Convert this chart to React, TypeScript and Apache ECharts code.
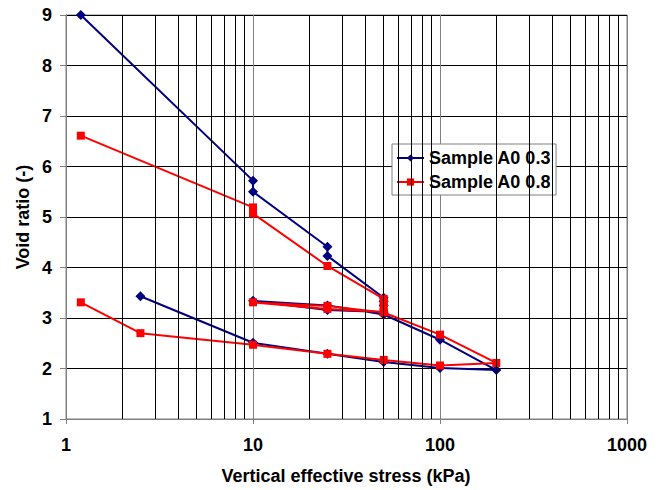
import React, { useEffect, useRef } from "react";
import * as echarts from "echarts";

const seriesNames = ["Sample A0 0.3", "Sample A0 0.8"];

const stressA03 = [1.2, 10, 10, 25, 25, 50, 50, 50, 50, 25, 10, 25, 50, 100, 200, 100, 50, 25, 10, 2.5];
const voidA03 = [9.0, 5.72, 5.5, 4.41, 4.23, 3.4, 3.33, 3.25, 3.12, 3.16, 3.34, 3.25, 3.07, 2.57, 1.97, 2.01, 2.13, 2.29, 2.51, 3.43];

const stressA08 = [1.2, 10, 10, 25, 50, 50, 50, 50, 25, 10, 25, 50, 100, 200, 100, 50, 25, 10, 2.5, 1.2];
const voidA08 = [6.61, 5.19, 5.07, 4.03, 3.38, 3.3, 3.22, 3.12, 3.18, 3.31, 3.24, 3.11, 2.67, 2.11, 2.06, 2.17, 2.29, 2.47, 2.7, 3.31];

const xTickLabels = ["1", "10", "100", "1000"];
const minorStops = [2, 3, 4, 5, 6, 7, 8, 9, 20, 30, 40, 50, 60, 70, 80, 90, 200, 300, 400, 500, 600, 700, 800, 900];

const FONT = "'Liberation Sans', Arial, sans-serif";

export default function App() {
  const ref = useRef<HTMLDivElement>(null);
  useEffect(() => {
    if (!ref.current) return;
    const chart = echarts.init(ref.current, undefined, { renderer: "svg" });
    const pairs = (xs: number[], ys: number[]) => xs.map((x, i) => [x, ys[i]]);
    chart.setOption({
      animation: false,
      backgroundColor: "#ffffff",
      textStyle: { fontFamily: FONT },
      grid: {
        left: 66,
        top: 15,
        right: 36,
        bottom: 71,
        show: true,
        borderColor: "#808080",
        borderWidth: 1,
        backgroundColor: "transparent",
      },
      legend: {
        data: seriesNames,
        orient: "vertical",
        left: 392,
        top: 144,
        backgroundColor: "#ffffff",
        borderColor: "#808080",
        borderWidth: 1,
        borderRadius: 0,
        padding: [5, 5, 4, 4],
        itemGap: 6,
        itemWidth: 27,
        itemHeight: 9,
        textStyle: { fontFamily: FONT, fontWeight: "bold", fontSize: 18, color: "#000" },
      },
      xAxis: {
        type: "log",
        logBase: 10,
        min: 1,
        max: 1000,
        axisLine: { show: true, lineStyle: { color: "#808080", width: 1 } },
        axisTick: { show: true, length: 5, inside: false, lineStyle: { color: "#808080" } },
        splitLine: { show: true, lineStyle: { color: "#808080", width: 1 } },
        axisLabel: {
          margin: 17,
          fontFamily: FONT,
          fontWeight: "bold",
          fontSize: 18,
          color: "#000",
          formatter: (v: number) => {
            const idx = Math.round(Math.log10(v));
            return xTickLabels[idx] ?? String(v);
          },
        },
      },
      yAxis: {
        type: "value",
        min: 1,
        max: 9,
        interval: 1,
        axisLine: { show: true, lineStyle: { color: "#808080", width: 1 } },
        axisTick: { show: true, length: 6, lineStyle: { color: "#808080" } },
        splitLine: { show: true, lineStyle: { color: "#000", width: 1 } },
        axisLabel: { margin: 14, fontFamily: FONT, fontWeight: "bold", fontSize: 18, color: "#000" },
      },
      graphic: [
        {
          type: "text",
          x: 346,
          y: 476,
          style: {
            text: "Vertical effective stress (kPa)",
            font: "bold 18px " + FONT,
            fill: "#000",
            align: "center",
            verticalAlign: "middle",
          },
        },
        {
          type: "text",
          x: 23,
          y: 217,
          rotation: Math.PI / 2,
          style: {
            text: "Void ratio (-)",
            font: "bold 18px " + FONT,
            fill: "#000",
            align: "center",
            verticalAlign: "middle",
          },
        },
      ],
      series: [
        {
          name: "minorgrid",
          type: "line",
          data: [[1, 1]],
          symbol: "none",
          lineStyle: { opacity: 0 },
          silent: true,
          z: 1,
          markLine: {
            silent: true,
            symbol: "none",
            animation: false,
            label: { show: false },
            lineStyle: { color: "#000", width: 1, type: "solid" },
            data: minorStops.map((v) => ({ xAxis: v })),
          },
        },
        {
          name: seriesNames[0],
          type: "line",
          data: pairs(stressA03, voidA03),
          symbol: "diamond",
          symbolSize: 10,
          itemStyle: { color: "#000080" },
          lineStyle: { color: "#000080", width: 2 },
          z: 3,
        },
        {
          name: seriesNames[1],
          type: "line",
          data: pairs(stressA08, voidA08),
          symbol: "rect",
          symbolSize: 8,
          itemStyle: { color: "#ff0000" },
          lineStyle: { color: "#ff0000", width: 2 },
          z: 4,
        },
      ],
    });
    return () => chart.dispose();
  }, []);
  return <div ref={ref} style={{ position: "fixed", left: 0, top: 0, width: 663, height: 490 }} />;
}
